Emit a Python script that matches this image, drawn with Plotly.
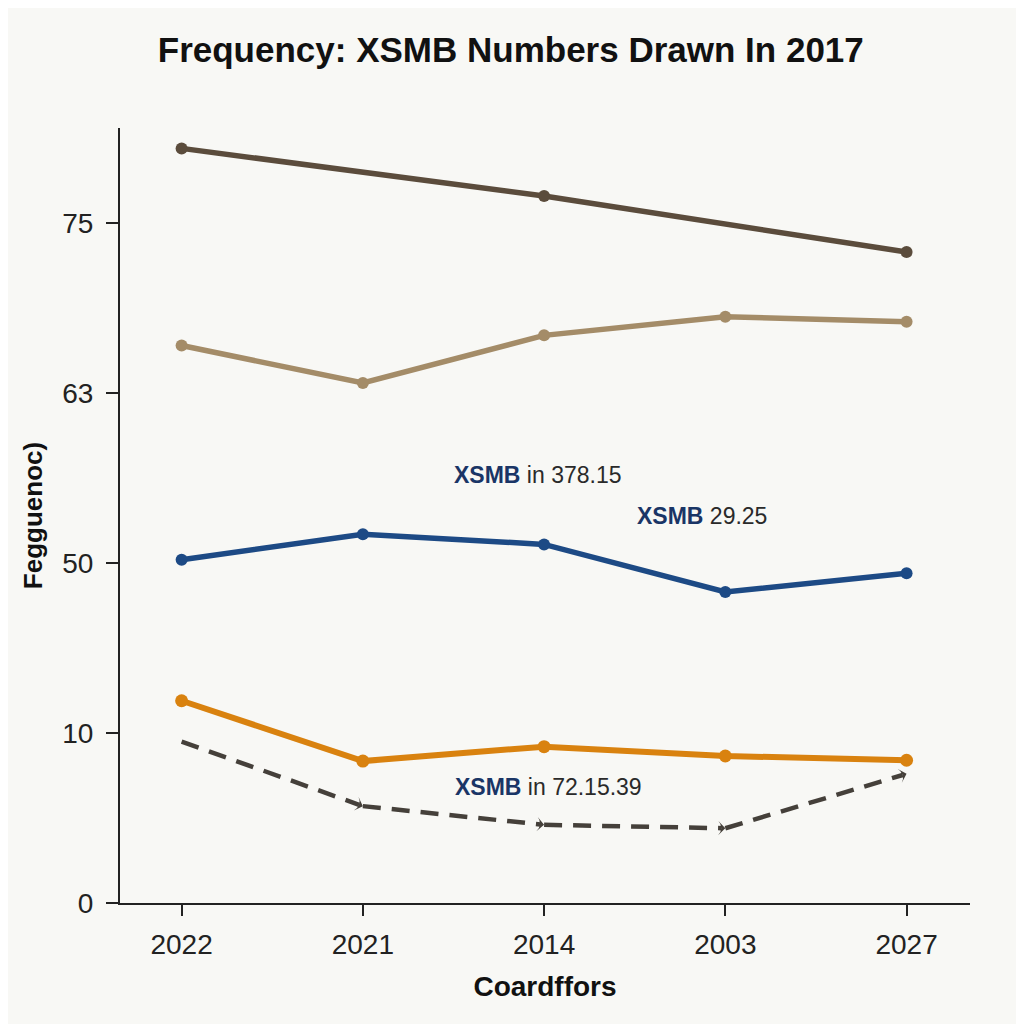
import plotly.graph_objects as go

# Categories (x) and tick labels (y axis uses evenly spaced positions with custom labels)
categories = ["2022", "2021", "2014", "2003", "2027"]
y_tick_pos = [0, 1, 2, 3, 4]
y_tick_text = ["0", "10", "50", "63", "75"]

# Series values expressed in the axis' position units
brown_x = ["2022", "2014", "2027"]
brown_y = [4.44, 4.16, 3.83]
tan_y = [3.28, 3.06, 3.34, 3.45, 3.42]
blue_y = [2.02, 2.17, 2.11, 1.83, 1.94]
orange_y = [1.19, 0.835, 0.92, 0.865, 0.84]
dashed_y = [0.95, 0.57, 0.46, 0.44, 0.76]

fig = go.Figure()
fig.add_trace(go.Scatter(x=brown_x, y=brown_y, mode="lines+markers",
                         line=dict(color="#5b4c3c", width=5.5),
                         marker=dict(size=12, color="#5b4c3c")))
fig.add_trace(go.Scatter(x=categories, y=tan_y, mode="lines+markers",
                         line=dict(color="#a48c68", width=5.5),
                         marker=dict(size=12, color="#a48c68")))
fig.add_trace(go.Scatter(x=categories, y=blue_y, mode="lines+markers",
                         line=dict(color="#1d4a85", width=5.5),
                         marker=dict(size=12, color="#1d4a85")))
fig.add_trace(go.Scatter(x=categories, y=orange_y, mode="lines+markers",
                         line=dict(color="#d9820f", width=6),
                         marker=dict(size=13, color="#d9820f")))
fig.add_trace(go.Scatter(x=categories, y=dashed_y, mode="lines+markers",
                         line=dict(color="#45403a", width=4.5, dash="18px,11px"),
                         marker=dict(size=10, color="#45403a", symbol="arrow-wide",
                                     angleref="previous")))

ann_font = dict(family="Liberation Sans, Arial", size=23, color="#2a2a2a")
def label(bold, rest):
    return f"<b><span style='color:#1a3566'>{bold}</span></b> {rest}"

fig.add_annotation(x=1.49, y=2.52, xref="x", yref="y", text=label("XSMB", "in 378.15"),
                   showarrow=False, font=ann_font, xanchor="left")
fig.add_annotation(x=2.5, y=2.28, xref="x", yref="y", text=label("XSMB", "29.25"),
                   showarrow=False, font=ann_font, xanchor="left")
fig.add_annotation(x=1.5, y=0.68, xref="x", yref="y", text=label("XSMB", "in 72.15.39"),
                   showarrow=False, font=ann_font, xanchor="left")

fig.update_layout(
    width=1024, height=1024,
    paper_bgcolor="#f8f8f5", plot_bgcolor="#f8f8f5",
    margin=dict(l=112, r=62, t=120, b=129),
    showlegend=False,
    title=dict(text="<b>Frequency: XSMB Numbers Drawn In 2017</b>",
               x=0.491, xanchor="center", y=0.959, yanchor="middle",
               font=dict(family="Liberation Sans, Arial", size=35, color="#111")),
    xaxis=dict(type="category", categoryorder="array", categoryarray=categories,
               range=[-0.34, 4.35], showgrid=False, zeroline=False,
               showline=True, linecolor="#222", linewidth=2,
               ticks="outside", ticklen=11, tickwidth=2, tickcolor="#222",
               ticklabelstandoff=4,
               tickfont=dict(family="Liberation Sans, Arial", size=28, color="#222"),
               title=dict(text="<b>Coardffors</b>", standoff=18,
                          font=dict(family="Liberation Sans, Arial", size=28, color="#111"))),
    yaxis=dict(range=[0, 4.56], tickvals=y_tick_pos, ticktext=y_tick_text,
               showgrid=False, zeroline=False, showline=True, linecolor="#222", linewidth=2,
               ticks="outside", ticklen=12, tickwidth=2, tickcolor="#222",
               ticklabelstandoff=7,
               tickfont=dict(family="Liberation Sans, Arial", size=28, color="#222"),
               title=dict(text="<b>Fegguenoc)</b>", standoff=12,
                          font=dict(family="Liberation Sans, Arial", size=26, color="#111"))),
)

fig.write_html("out.html")
